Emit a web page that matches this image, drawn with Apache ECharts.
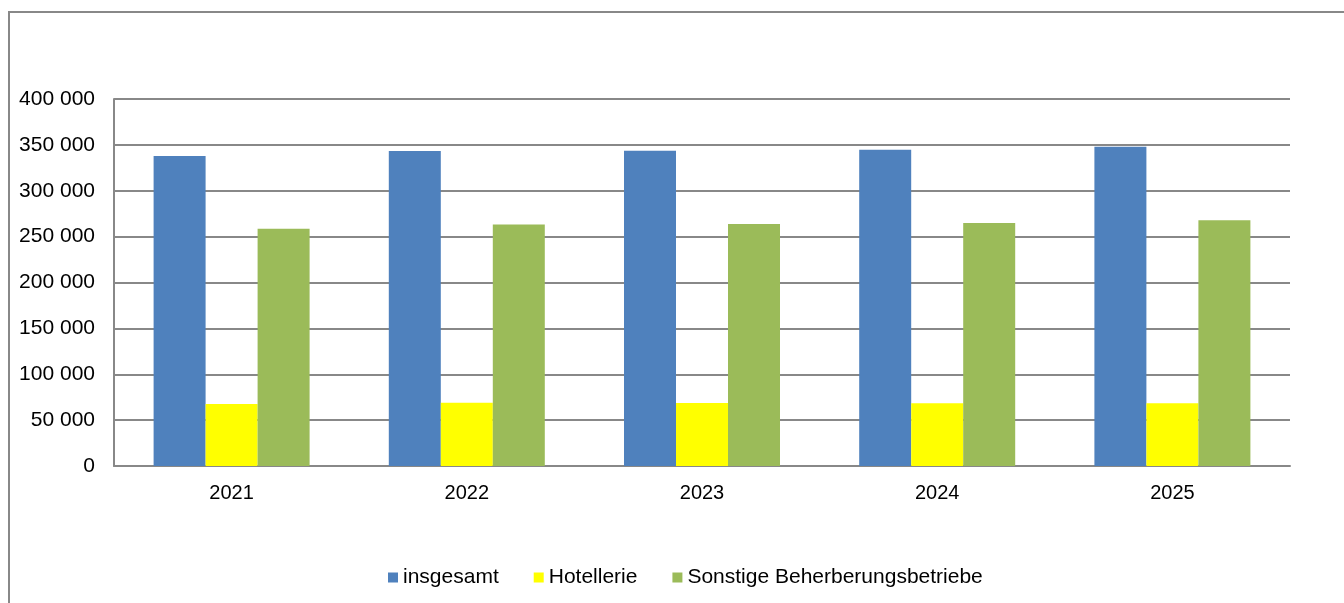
<!DOCTYPE html>
<html>
<head>
<meta charset="utf-8">
<script src="https://cdn.jsdelivr.net/npm/echarts@6/dist/echarts.min.js"></script>
<style>
html,body{margin:0;padding:0;background:#fff;}
#chart{width:1344px;height:603px;}
</style>
</head>
<body>
<div id="chart"></div>
<script>
const categories = ['2021', '2022', '2023', '2024', '2025'];
const insgesamt = [337900, 343300, 343600, 344800, 348000];
const hotellerie = [67700, 69000, 68800, 68500, 68500];
const sonstige = [258600, 263200, 263700, 264900, 267800];
const seriesNames = ['insgesamt', 'Hotellerie', 'Sonstige Beherberungsbetriebe'];

const font = '"Liberation Sans", Arial, sans-serif';
const chart = echarts.init(document.getElementById('chart'), null, {renderer: 'canvas'});

function fmt(v) {
  return String(v).replace(/\B(?=(\d{3})+(?!\d))/g, ' ');
}

chart.setOption({
  animation: false,
  backgroundColor: '#ffffff',
  textStyle: {fontFamily: font},
  graphic: [{
    type: 'rect',
    shape: {x: 9, y: 12, width: 1345, height: 600},
    style: {fill: 'none', stroke: '#888888', lineWidth: 2},
    silent: true
  }],
  grid: {left: 114, right: 54, top: 99, bottom: 137, containLabel: false},
  legend: {
    left: 383,
    top: 562,
    icon: 'rect',
    itemWidth: 10,
    itemHeight: 10,
    itemGap: 35,
    textStyle: {fontFamily: font, fontSize: 21, color: '#000'},
    data: seriesNames
  },
  xAxis: {
    type: 'category',
    data: categories,
    axisLine: {show: true, lineStyle: {color: '#888888', width: 2}},
    axisTick: {show: false},
    axisLabel: {color: '#000', fontSize: 20, fontFamily: font, margin: 17}
  },
  yAxis: {
    type: 'value',
    min: 0,
    max: 400000,
    interval: 50000,
    axisLine: {show: true, lineStyle: {color: '#888888', width: 2}},
    axisTick: {show: false},
    splitLine: {lineStyle: {color: '#888888', width: 2}},
    axisLabel: {color: '#000', fontSize: 21, fontFamily: font, margin: 19, formatter: fmt}
  },
  series: [
    {name: seriesNames[0], type: 'bar', data: insgesamt, barWidth: 52, barGap: '0%',
     itemStyle: {color: '#4F81BD'}},
    {name: seriesNames[1], type: 'bar', data: hotellerie, barWidth: 52, barGap: '0%',
     itemStyle: {color: '#FFFF00'}},
    {name: seriesNames[2], type: 'bar', data: sonstige, barWidth: 52, barGap: '0%',
     itemStyle: {color: '#9BBB59'}}
  ]
});
</script>
</body>
</html>
